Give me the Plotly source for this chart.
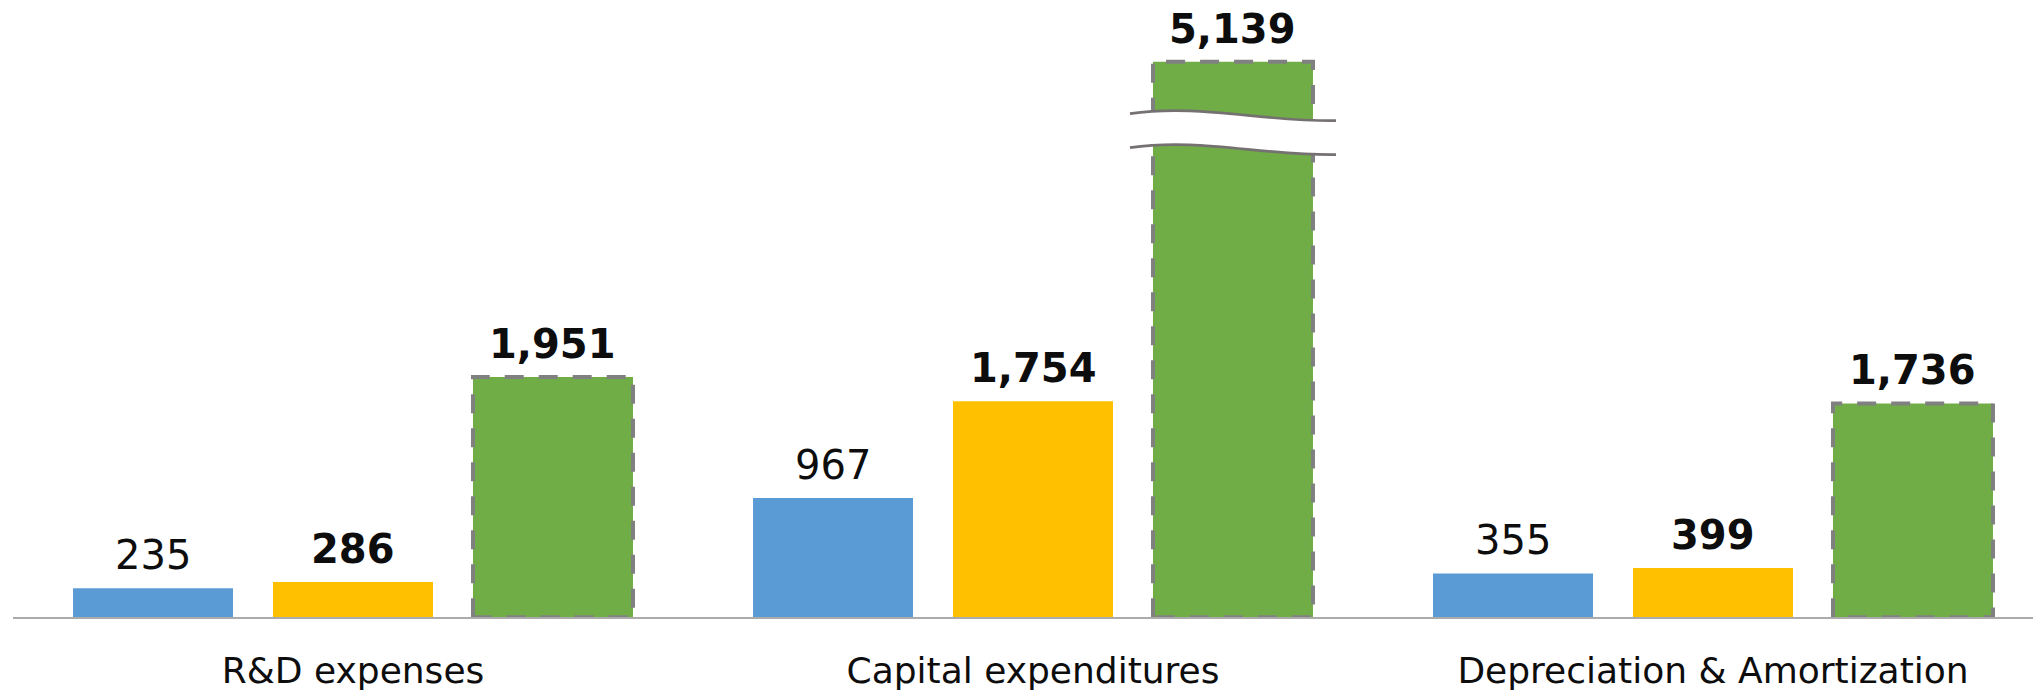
import plotly.graph_objects as go

# ---------------- data ----------------
categories = ["R&D expenses", "Capital expenditures", "Depreciation & Amortization"]
series_a = [235, 967, 355]      # blue
series_b = [286, 1754, 399]     # yellow
series_c = [1951, 5139, 1736]   # green (dashed outline)

# ---------------- style ----------------
W, H = 2033, 691
BLUE, YELLOW, GREEN = "#5B9BD5", "#FFC000", "#70AD47"
OUTLINE = "#808080"
TEXT = "#0D0D0D"
FONT = "DejaVu Sans"
BAR_W = 0.2353
SLOT = 0.2941
LOWER_MAX = 3878            # lower part of broken axis
UPPER_RANGE = [4629, 5641]  # upper part of broken axis

idx = list(range(len(categories)))
fmt = lambda v: f"{v:,}"

series = [
    (series_a, BLUE, "normal", -SLOT, False),
    (series_b, YELLOW, "bold", 0.0, False),
    (series_c, GREEN, "bold", SLOT, True),
]

fig = go.Figure()
annotations = []

for vals, color, weight, off, dashed in series:
    xs = [i + off for i in idx]
    for xa, ya in (("x", "y"), ("x2", "y2")):
        fig.add_trace(go.Bar(
            x=xs, y=vals, width=BAR_W, marker=dict(color=color, line=dict(width=0)),
            xaxis=xa, yaxis=ya, hoverinfo="skip", showlegend=False,
        ))
    for xc, v in zip(xs, vals):
        upper = v > LOWER_MAX
        annotations.append(dict(
            x=xc, y=v, xref="x2" if upper else "x", yref="y2" if upper else "y",
            text=fmt(v), showarrow=False, yanchor="bottom", xanchor="center", yshift=8,
            font=dict(family=FONT, size=40, color=TEXT, weight=weight),
        ))
    if dashed:
        ox, oy = [], []
        for xc, v in zip(xs, vals):
            x0, x1 = xc - BAR_W / 2, xc + BAR_W / 2
            ox += [x0, x0, x1, x1, x0, None]
            oy += [0, v, v, 0, 0, None]
        for xa, ya in (("x", "y"), ("x2", "y2")):
            fig.add_trace(go.Scatter(
                x=ox, y=oy, mode="lines",
                line=dict(color=OUTLINE, width=4, dash="19px,15px"),
                xaxis=xa, yaxis=ya, hoverinfo="skip", showlegend=False,
            ))

# ---------------- axis break decoration ----------------
def X(px):
    return px / W

def Y(py):
    return 1 - py / H

def curve(dy):
    pts = [(1130, 114 + dy), (1200, 104 + dy), (1260, 122 + dy), (1336, 121 + dy)]
    return [(X(a), Y(b)) for a, b in pts]

up = curve(0)
lo = curve(34)
band = (f"M {up[0][0]},{up[0][1]} C {up[1][0]},{up[1][1]} {up[2][0]},{up[2][1]} {up[3][0]},{up[3][1]} "
        f"L {lo[3][0]},{lo[3][1]} C {lo[2][0]},{lo[2][1]} {lo[1][0]},{lo[1][1]} {lo[0][0]},{lo[0][1]} Z")
shapes = [dict(type="path", xref="paper", yref="paper", path=band,
               fillcolor="white", line=dict(width=0), layer="above")]
for c in (up, lo):
    p = f"M {c[0][0]},{c[0][1]} C {c[1][0]},{c[1][1]} {c[2][0]},{c[2][1]} {c[3][0]},{c[3][1]}"
    shapes.append(dict(type="path", xref="paper", yref="paper", path=p,
                       line=dict(color="#767171", width=2.7), layer="above"))

lower_top = 1 - 140 / H
upper_bottom = 1 - 125 / H
base = 1 - 619 / H
n = len(categories)

fig.update_layout(
    width=W, height=H,
    margin=dict(l=0, r=0, t=0, b=0),
    paper_bgcolor="white", plot_bgcolor="white",
    barmode="overlay",
    showlegend=False,
    shapes=shapes,
    annotations=annotations,
    xaxis=dict(domain=[13 / W, 1], range=[-0.5, n - 0.5 - 0.0294], anchor="y",
               tickmode="array", tickvals=idx, ticktext=categories,
               tickfont=dict(family=FONT, size=36, color=TEXT),
               showline=True, linecolor="#ABABAB", linewidth=2,
               showgrid=False, zeroline=False, ticks="", ticklabelstandoff=21),
    xaxis2=dict(domain=[13 / W, 1], matches="x", anchor="y2", visible=False,
                showgrid=False, zeroline=False),
    yaxis=dict(domain=[base, lower_top], range=[0, LOWER_MAX], visible=False,
               showgrid=False, zeroline=False),
    yaxis2=dict(domain=[upper_bottom, 1], range=UPPER_RANGE, visible=False,
                showgrid=False, zeroline=False),
)

fig.write_html(
    "out.html",
    config={"displayModeBar": False},
    post_script="document.body.style.margin='0';document.body.style.overflow='hidden';",
)
